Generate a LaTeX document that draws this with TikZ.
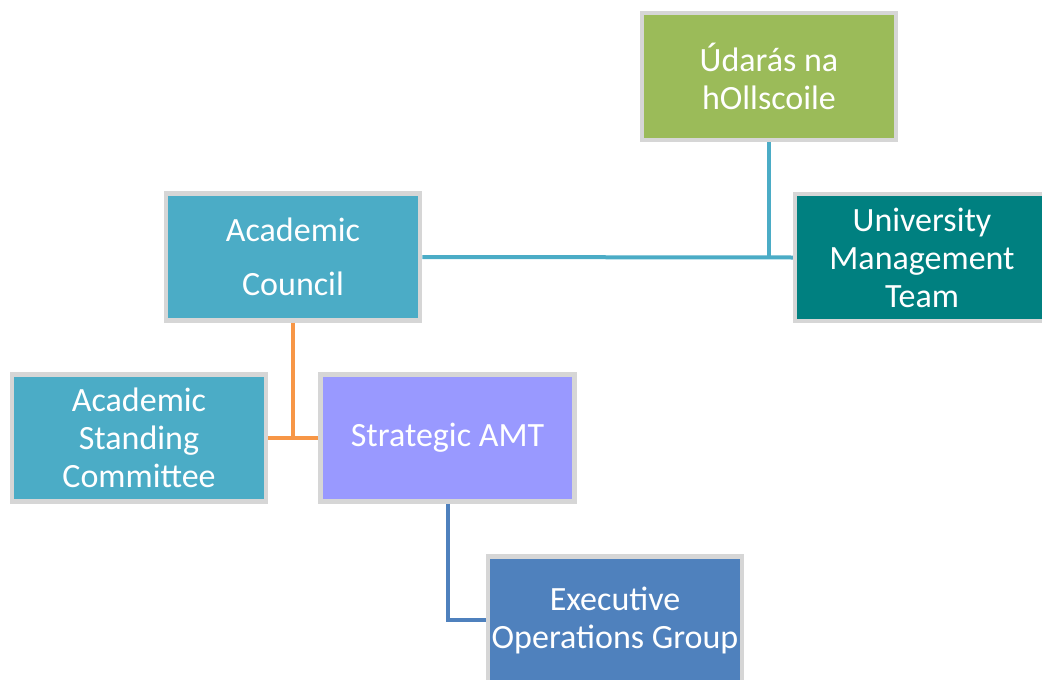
\documentclass[tikz,border=0pt]{standalone}
\usepackage{fontspec}
\setmainfont{Carlito}
\usepackage{tikz}
\usetikzlibrary{positioning}
\definecolor{rimgray}{RGB}{214,214,214}
\definecolor{olivegreen}{RGB}{155,187,89}
\definecolor{tealdark}{RGB}{0,128,128}
\definecolor{aquablue}{RGB}{75,172,198}
\definecolor{lavender}{RGB}{153,153,255}
\definecolor{steelblue}{RGB}{79,129,189}
\definecolor{linkorange}{RGB}{247,150,70}
\tikzset{
orgbox/.style={draw=rimgray, line width=4.5pt, minimum width=254pt, minimum height=127pt,
  inner sep=0pt, text=white, align=center, font=\fontsize{34}{38}\selectfont},
link/.style={line width=4pt}
}

\begin{document}
\begin{tikzpicture}[x=1pt,y=-1pt]
  \useasboundingbox (0,0) rectangle (1042,680);
  % the boxes
  \node[orgbox, fill=olivegreen] (udaras) at (769,76.5) {Údarás na\\hOllscoile};
  \node[orgbox, fill=tealdark] (umt) at (922,257.5) {University\\Management\\Team};
  \node[orgbox, fill=aquablue] (council) at (293,257) {Academic\\[16pt]Council};
  \node[orgbox, fill=aquablue] (standing) at (139,438) {Academic\\Standing\\Committee};
  \node[orgbox, fill=lavender] (amt) at (447.5,438) {Strategic AMT};
  \node[orgbox, fill=steelblue] (exec) at (615,620) {Executive\\Operations Group};
  % the links
  \draw[link, aquablue] (council.east) -- (umt.west);
  \draw[link, aquablue] (udaras.south) -- (udaras.south |- umt.west);
  \draw[link, linkorange] (standing.east) -- (amt.west);
  \draw[link, linkorange] (council.south) -- (council.south |- amt.west);
  \draw[link, steelblue] (amt.south) |- (exec.west);
\end{tikzpicture}
\end{document}
